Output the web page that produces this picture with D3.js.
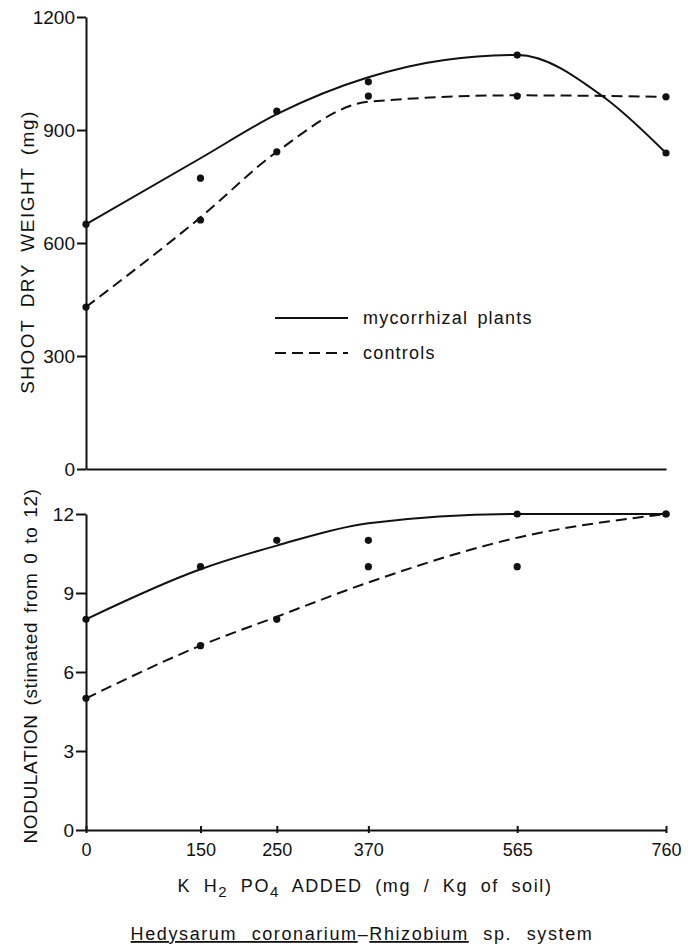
<!DOCTYPE html>
<html>
<head>
<meta charset="utf-8">
<script src="https://cdn.jsdelivr.net/npm/d3@7"></script>
<style>
body { margin: 0; background: #fff; }
text { font-family: "Liberation Sans", Arial, sans-serif; fill: #111; }
</style>
</head>
<body>
<svg id="chart"></svg>
<script>
var width = 688,
    height = 949;

// phosphate added (mg/Kg of soil)
var doses = [0, 150, 250, 370, 565, 760];
var doseLabels = ["0", "150", "250", "370", "565", "760"];

// shoot dry weight (mg), measured points
var weightMyco = [650, 772, 950, 1028, 1099, 839];
var weightCtrl = [430, 661, 842, 990, 990, 988];
// hand drawn curves
var weightCurveMycoX = [0, 150, 250, 370, 470, 565, 680, 760];
var weightCurveMyco = [650, 825, 942, 1040, 1086, 1099, 985, 839];
var weightCurveCtrl = [430, 668, 842, 975, 992, 988];
var weightTicks = [0, 300, 600, 900, 1200];

// nodulation score (0 to 12)
var noduleMyco = [8, 10, 11, 11, 12, 12];
var noduleCtrl = [5, 7, 8, 10, 10, 12];
var noduleCurveMyco = [8, 9.9, 10.8, 11.65, 12, 12];
var noduleCurveCtrl = [5, 7, 8.1, 9.4, 11.1, 12];
var noduleTicks = [0, 3, 6, 9, 12];

var svg = d3.select("#chart")
    .attr("width", width)
    .attr("height", height);

var x = d3.scaleLinear().domain([0, 760]).range([86, 666]);
var yTop = d3.scaleLinear().domain([0, 1200]).range([469, 17]);
var yBot = d3.scaleLinear().domain([0, 12]).range([830, 514]);

function styleAxis(g) {
    g.attr("font-size", 19).attr("font-family", null);
    g.selectAll("path, line").attr("stroke", "#111").attr("stroke-width", 2);
    g.selectAll("text").attr("fill", "#111");
}

// top panel axes
svg.append("g")
    .attr("transform", "translate(" + x(0) + ",0)")
    .call(d3.axisLeft(yTop).tickValues(weightTicks).tickSize(9).tickSizeOuter(0).tickPadding(2)
        .tickFormat(function (d) { return d; }))
    .call(styleAxis);

svg.append("g")
    .attr("transform", "translate(0," + yTop(0) + ")")
    .call(d3.axisBottom(x).tickValues([]).tickSizeOuter(0))
    .call(styleAxis);

// bottom panel axes
svg.append("g")
    .attr("transform", "translate(" + x(0) + ",0)")
    .call(d3.axisLeft(yBot).tickValues(noduleTicks).tickSize(10).tickSizeOuter(0).tickPadding(2))
    .call(styleAxis);

var xAxis = svg.append("g")
    .attr("transform", "translate(0," + yBot(0) + ")")
    .call(d3.axisBottom(x).tickValues(doses).tickSize(4).tickSizeOuter(0).tickPadding(9)
        .tickFormat(function (d, i) { return doseLabels[i]; }))
    .call(styleAxis);
xAxis.attr("font-size", 18);
xAxis.selectAll(".tick line").attr("y1", -4).attr("y2", 3);

// curves
function drawPanel(y, curveX, curveMyco, curveCtrl, ptsMyco, ptsCtrl) {
    var line = d3.line().curve(d3.curveMonotoneX);

    svg.append("path")
        .attr("d", line(curveX.map(function (d, i) { return [x(d), y(curveMyco[i])]; })))
        .attr("fill", "none")
        .attr("stroke", "#111")
        .attr("stroke-width", 2);

    svg.append("path")
        .attr("d", line(doses.map(function (d, i) { return [x(d), y(curveCtrl[i])]; })))
        .attr("fill", "none")
        .attr("stroke", "#111")
        .attr("stroke-width", 2)
        .attr("stroke-dasharray", "11,6");

    var pts = ptsMyco.map(function (d, i) { return [doses[i], d]; })
        .concat(ptsCtrl.map(function (d, i) { return [doses[i], d]; }));

    svg.append("g").selectAll("circle")
        .data(pts)
        .enter()
        .append("circle")
        .attr("cx", function (d) { return x(d[0]); })
        .attr("cy", function (d) { return y(d[1]); })
        .attr("r", 3.6)
        .attr("fill", "#111");
}

drawPanel(yTop, weightCurveMycoX, weightCurveMyco, weightCurveCtrl, weightMyco, weightCtrl);
drawPanel(yBot, doses, noduleCurveMyco, noduleCurveCtrl, noduleMyco, noduleCtrl);

// legend
var legend = [
    { label: "mycorrhizal plants", dash: null, y: 318 },
    { label: "controls", dash: "11,6", y: 353 }
];
var lg = svg.append("g").selectAll("g").data(legend).enter().append("g");
lg.append("line")
    .attr("x1", 275).attr("x2", 348)
    .attr("y1", function (d) { return d.y; })
    .attr("y2", function (d) { return d.y; })
    .attr("stroke", "#111")
    .attr("stroke-width", 2)
    .attr("stroke-dasharray", function (d) { return d.dash; });
lg.append("text")
    .attr("x", 363)
    .attr("y", function (d) { return d.y; })
    .attr("dy", "0.35em")
    .attr("font-size", 18)
    .attr("letter-spacing", 1.2)
    .attr("word-spacing", 3)
    .text(function (d) { return d.label; });

// axis titles
svg.append("text")
    .attr("transform", "translate(34,252) rotate(-90)")
    .attr("text-anchor", "middle")
    .attr("font-size", 19)
    .attr("letter-spacing", 1.5)
    .attr("word-spacing", 5)
    .text("SHOOT DRY WEIGHT (mg)");

svg.append("text")
    .attr("transform", "translate(37,666) rotate(-90)")
    .attr("text-anchor", "middle")
    .attr("font-size", 19)
    .attr("letter-spacing", 0.6)
    .attr("word-spacing", 3)
    .text("NODULATION (stimated from 0 to 12)");

var xt = svg.append("text")
    .attr("x", 365)
    .attr("y", 892)
    .attr("text-anchor", "middle")
    .attr("font-size", 18)
    .attr("letter-spacing", 1.6)
    .attr("word-spacing", 6);
xt.append("tspan").text("K H");
xt.append("tspan").attr("dy", 5).attr("font-size", 15).text("2");
xt.append("tspan").attr("dy", -5).text(" PO");
xt.append("tspan").attr("dy", 5).attr("font-size", 15).text("4");
xt.append("tspan").attr("dy", -5).text("  ADDED (mg / Kg of soil)");

var title = svg.append("text")
    .attr("x", 362)
    .attr("y", 940)
    .attr("text-anchor", "middle")
    .attr("font-size", 18)
    .attr("letter-spacing", 1.6)
    .attr("word-spacing", 8);
title.append("tspan").attr("text-decoration", "underline").text("Hedysarum coronarium");
title.append("tspan").text("\u2013");
title.append("tspan").attr("text-decoration", "underline").text("Rhizobium");
title.append("tspan").text(" sp. system");
</script>
</body>
</html>
